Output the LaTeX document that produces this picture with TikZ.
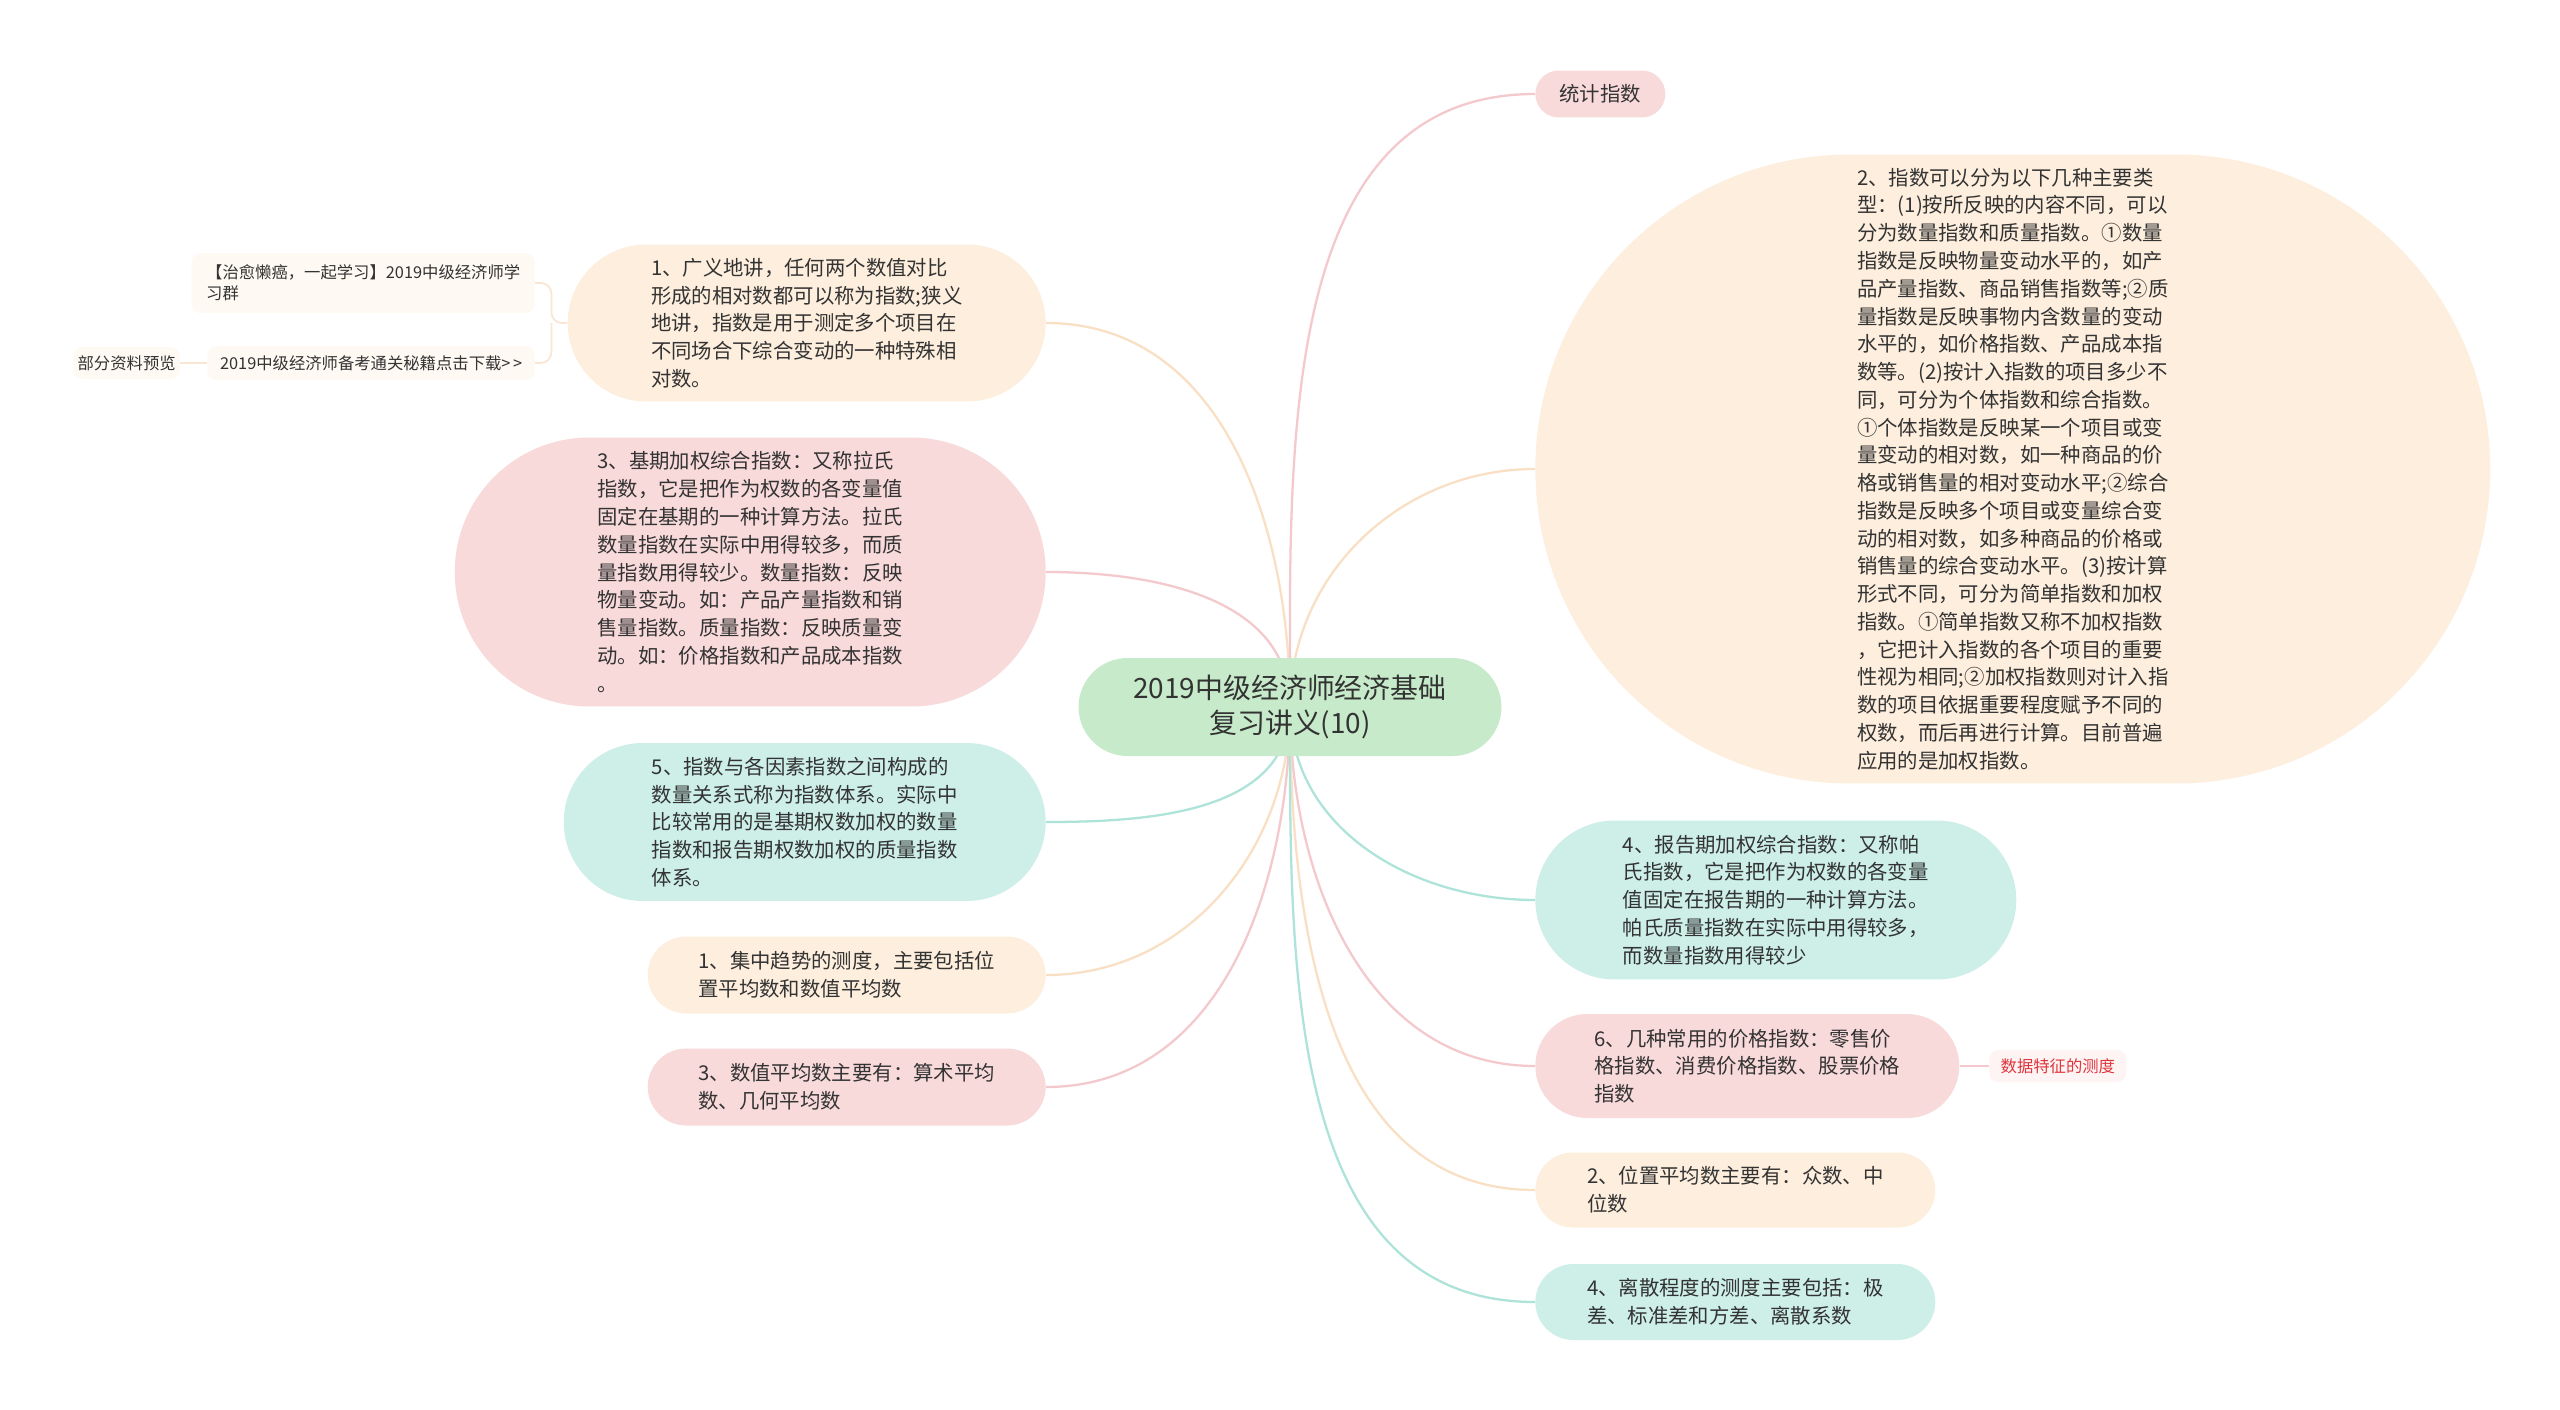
\documentclass[tikz,border=0pt]{standalone}
\usepackage{fontspec}
\setmainfont{Noto Sans CJK SC}
\usepackage{xcolor}
\usetikzlibrary{backgrounds}
\definecolor{ink}{HTML}{333333}
\definecolor{cRootF}{HTML}{C7EBCA}
\definecolor{cPinkF}{HTML}{F9DADB}
\definecolor{cPinkL}{HTML}{F3C9CD}
\definecolor{cOranF}{HTML}{FDEEDD}
\definecolor{cOranL}{HTML}{F9E0C4}
\definecolor{cTealF}{HTML}{CDEFE8}
\definecolor{cTealL}{HTML}{AEE3DA}
\definecolor{cNoteF}{HTML}{FEF9F3}
\definecolor{cNoteL}{HTML}{FAE6D2}
\definecolor{cTagF}{HTML}{FEF4F4}
\definecolor{cTag}{HTML}{DF363D}
\newcommand{\mmBody}{\fontsize{11.6}{15.8}\selectfont}
\newcommand{\mmRoot}{\fontsize{15.9}{20.4}\selectfont}
\newcommand{\mmSmall}{\fontsize{9.3}{12}\selectfont}

\begin{document}
\begin{tikzpicture}[x=0.02cm,y=0.02cm,
  topic/.style={fill=#1,text=ink,align=left,inner sep=0pt,font=\mmBody},
  note/.style={fill=#1,text=ink,align=left,inner sep=0pt,rounded corners=5pt,font=\mmSmall},
  link/.style={draw=#1,line width=1.3pt},
  sublink/.style={draw=cNoteL,line width=1pt,rounded corners=6pt}]

  \useasboundingbox (0,0) rectangle (2560,-1410);

  \node[topic=cRootF,align=center,font=\mmRoot,minimum width=8.46cm,minimum height=1.96cm,
    rounded corners=0.98cm] (root) at (1290,-707)
    {2019中级经济师经济基础\\复习讲义(10)};

  \node[topic=cOranF,anchor=east,minimum width=9.56cm,minimum height=3.14cm,rounded corners=1.57cm]
    (l1) at (1046,-323)
    {1、广义地讲，任何两个数值对比\\形成的相对数都可以称为指数;狭义\\地讲，指数是用于测定多个项目在\\不同场合下综合变动的一种特殊相\\对数。};
  \node[topic=cPinkF,anchor=east,minimum width=11.82cm,minimum height=5.38cm,rounded corners=2.69cm]
    (l2) at (1046,-572)
    {3、基期加权综合指数：又称拉氏\\指数，它是把作为权数的各变量值\\固定在基期的一种计算方法。拉氏\\数量指数在实际中用得较多，而质\\量指数用得较少。数量指数：反映\\物量变动。如：产品产量指数和销\\售量指数。质量指数：反映质量变\\动。如：价格指数和产品成本指数\\。};
  \node[topic=cTealF,anchor=east,minimum width=9.64cm,minimum height=3.16cm,rounded corners=1.58cm]
    (l3) at (1046,-822)
    {5、指数与各因素指数之间构成的\\数量关系式称为指数体系。实际中\\比较常用的是基期权数加权的数量\\指数和报告期权数加权的质量指数\\体系。};
  \node[topic=cOranF,anchor=east,minimum width=7.96cm,minimum height=1.54cm,rounded corners=0.77cm]
    (l4) at (1046,-975)
    {1、集中趋势的测度，主要包括位\\置平均数和数值平均数};
  \node[topic=cPinkF,anchor=east,minimum width=7.96cm,minimum height=1.54cm,rounded corners=0.77cm]
    (l5) at (1046,-1087)
    {3、数值平均数主要有：算术平均\\数、几何平均数};

  \node[note=cNoteF,anchor=east,minimum width=6.86cm,minimum height=1.2cm] (qun) at (535,-283)
    {【治愈懒癌，一起学习】2019中级经济师学\\习群};
  \node[note=cNoteF,anchor=east,minimum width=6.54cm,minimum height=0.68cm] (down) at (535,-363)
    {2019中级经济师备考通关秘籍点击下载>\,>};
  \node[note=cNoteF,anchor=east,minimum width=2.12cm,minimum height=0.64cm] (preview) at (180,-363)
    {部分资料预览};

  \node[topic=cPinkF,anchor=west,minimum width=2.6cm,minimum height=0.94cm,rounded corners=0.47cm]
    (r0) at (1535,-94) {统计指数};
  \node[topic=cOranF,anchor=west,minimum width=19.1cm,minimum height=12.58cm,rounded corners=6.29cm]
    (r1) at (1535,-469)
    {2、指数可以分为以下几种主要类\\型：(1)按所反映的内容不同，可以\\分为数量指数和质量指数。①数量\\指数是反映物量变动水平的，如产\\品产量指数、商品销售指数等;②质\\量指数是反映事物内含数量的变动\\水平的，如价格指数、产品成本指\\数等。(2)按计入指数的项目多少不\\同，可分为个体指数和综合指数。\\①个体指数是反映某一个项目或变\\量变动的相对数，如一种商品的价\\格或销售量的相对变动水平;②综合\\指数是反映多个项目或变量综合变\\动的相对数，如多种商品的价格或\\销售量的综合变动水平。(3)按计算\\形式不同，可分为简单指数和加权\\指数。①简单指数又称不加权指数\\，它把计入指数的各个项目的重要\\性视为相同;②加权指数则对计入指\\数的项目依据重要程度赋予不同的\\权数，而后再进行计算。目前普遍\\应用的是加权指数。};
  \node[topic=cTealF,anchor=west,minimum width=9.62cm,minimum height=3.18cm,rounded corners=1.59cm]
    (r2) at (1535,-900)
    {4、报告期加权综合指数：又称帕\\氏指数，它是把作为权数的各变量\\值固定在报告期的一种计算方法。\\帕氏质量指数在实际中用得较多，\\而数量指数用得较少};
  \node[topic=cPinkF,anchor=west,minimum width=8.48cm,minimum height=2.08cm,rounded corners=1.04cm]
    (r3) at (1535,-1066)
    {6、几种常用的价格指数：零售价\\格指数、消费价格指数、股票价格\\指数};
  \node[topic=cOranF,anchor=west,minimum width=8.0cm,minimum height=1.5cm,rounded corners=0.75cm]
    (r4) at (1535,-1190)
    {2、位置平均数主要有：众数、中\\位数};
  \node[topic=cTealF,anchor=west,minimum width=8.0cm,minimum height=1.52cm,rounded corners=0.76cm]
    (r5) at (1535,-1302)
    {4、离散程度的测度主要包括：极\\差、标准差和方差、离散系数};

  \node[note=cTagF,text=cTag,anchor=west,minimum width=2.74cm,minimum height=0.64cm] (tag) at (1989,-1066)
    {数据特征的测度};

  \begin{scope}[on background layer]
    \fill[white] (0,0) rectangle (2560,-1410);
    \draw[link=cOranL] (root.center) to[out=90,in=0] (l1.east);
    \draw[link=cPinkL] (root.center) to[out=90,in=0] (l2.east);
    \draw[link=cTealL] (root.center) to[out=-90,in=0] (l3.east);
    \draw[link=cOranL] (root.center) to[out=-90,in=0] (l4.east);
    \draw[link=cPinkL] (root.center) to[out=-90,in=0] (l5.east);
    \draw[link=cPinkL] (root.center) to[out=90,in=180] (r0.west);
    \draw[link=cOranL] (root.center) to[out=90,in=180] (r1.west);
    \draw[link=cTealL] (root.center) to[out=-90,in=180] (r2.west);
    \draw[link=cPinkL] (root.center) to[out=-90,in=180] (r3.west);
    \draw[link=cOranL] (root.center) to[out=-90,in=180] (r4.west);
    \draw[link=cTealL] (root.center) to[out=-90,in=180] (r5.west);
    \draw[link=cPinkL] (r3.east) -- (tag.west);

    \draw[sublink] (l1.west) -- ++(-16,0) coordinate (fork) |- (qun.east);
    \draw[sublink] (fork) |- (down.east);
    \draw[sublink] (preview.east) -- (down.west);
  \end{scope}
\end{tikzpicture}
\end{document}
